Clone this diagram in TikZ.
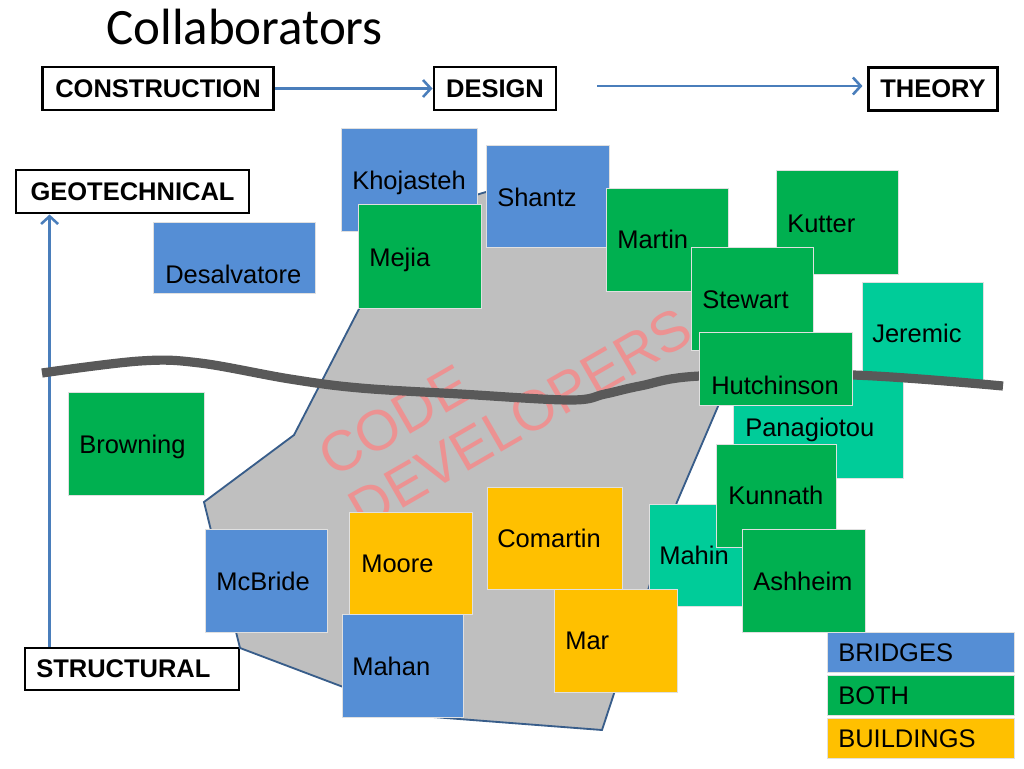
\documentclass[tikz,border=0pt]{standalone}
\usepackage{fontspec}
\setmainfont{Liberation Sans}
\newfontfamily\titlefont{Carlito}
\usetikzlibrary{arrows.meta,positioning}

\definecolor{bridgeblue}{RGB}{85,142,213}
\definecolor{bothgreen}{RGB}{0,176,80}
\definecolor{buildorange}{RGB}{255,192,0}
\definecolor{geoteal}{RGB}{0,204,153}
\definecolor{devgray}{RGB}{191,191,191}
\definecolor{roadgray}{RGB}{89,89,89}
\definecolor{flowblue}{RGB}{74,126,187}
\definecolor{edgeblue}{RGB}{56,93,138}
\definecolor{stamp}{RGB}{236,146,146}

\tikzset{x=0.024805cm, y=-0.024805cm,
  who/.style={anchor=base west, inner sep=0, font=\fontsize{18}{21}\selectfont},
  axis/.style={draw, line width=2pt, minimum height=1.07cm, inner sep=0,
    font=\bfseries\fontsize{18}{21}\selectfont},
  flow/.style={draw=flowblue, line width=1.8pt, -{Straight Barb[length=5.5pt,width=12pt]}},
  card/.style={draw=black!12, line width=0.5pt},
  key/.style={card, minimum height=1cm, text width=4.1cm, inner xsep=0.27cm,
    align=left, font=\fontsize{18}{21}\selectfont, node distance=0.05cm}}

\begin{document}
\begin{tikzpicture}
\path[use as bounding box] (0,0) rectangle (1024,768);

\node[anchor=base west, inner sep=0, font=\titlefont\fontsize{36}{40}\selectfont] (title) at (106,45) {Collaborators};

% axes
\node[axis, minimum width=5.75cm] (construction) at (158,88.5) {CONSTRUCTION};
\node[axis, minimum width=3.03cm] (design) at (495,88.5) {DESIGN};
\node[axis, minimum width=3.22cm] (theory) at (933,89) {THEORY};
\node[axis, minimum width=5.78cm] (geotechnical) at (132.5,191.5) {GEOTECHNICAL};
\node[axis, text width=4.75cm, inner xsep=0.28cm, align=left, minimum height=1.04cm] (structural) at (132,669) {STRUCTURAL};

\draw[flow] (construction) -- (design);
\coordinate (lead) at (597,86);
\draw[flow, shorten >=3pt] (lead) -- (lead -| theory.west);
\coordinate (rise) at ([xshift=0.645cm]structural.north west);
\draw[flow] (rise) -- (rise |- geotechnical.south);

% code developers
\filldraw[fill=devgray, draw=edgeblue, line width=1.3pt] (408,215) -- (486,192) -- (620,200)
  -- (760,290) -- (755,320) -- (677,502) -- (602,730) -- (420,716) -- (240,648)
  -- (204,502) -- (294,435) -- (360,307) -- cycle;
\node[rotate=30, align=left, text=stamp, inner sep=0, font=\fontsize{40}{43}\selectfont] (stampnote) at (505,392) {CODE\\DEVELOPERS};

% collaborators
\path[card, fill=bridgeblue] (341,128) rectangle (477,231);
\node[who] (khojasteh) at (352,189) {Khojasteh};
\path[card, fill=bothgreen] (358,204) rectangle (481,308);
\node[who] (mejia) at (369,266) {Mejia};
\path[card, fill=bridgeblue] (486,145) rectangle (609,247);
\node[who] (shantz) at (497,206) {Shantz};
\path[card, fill=bothgreen] (606,188) rectangle (728,291);
\node[who] (martin) at (617,248) {Martin};
\path[card, fill=bothgreen] (776,170) rectangle (898,274);
\node[who] (kutter) at (787,232) {Kutter};
\path[card, fill=bothgreen] (691,247) rectangle (813,350);
\node[who] (stewart) at (702,308) {Stewart};
\path[card, fill=geoteal] (862,282) rectangle (983,381);
\node[who] (jeremic) at (872,342) {Jeremic};
\path[card, fill=geoteal] (733,376) rectangle (903,478);
\node[who] (panagiotou) at (745,436) {Panagiotou};

% the divide
\draw[roadgray, line width=6.5pt] plot[smooth, tension=0.6] coordinates {(42,373) (140,361) (200,363)
  (290,379) (360,388) (460,394) (570,400) (605,394) (640,386) (700,376) (853,375) (1003,386)};

\path[card, fill=bothgreen] (699,332) rectangle (852,405);
\node[who] (hutchinson) at (711,394) {Hutchinson};
\path[card, fill=geoteal] (649,504) rectangle (771,606);
\node[who] (mahin) at (659,564) {Mahin};
\path[card, fill=bothgreen] (716,444) rectangle (836,547);
\node[who] (kunnath) at (728,504) {Kunnath};
\path[card, fill=bothgreen] (742,529) rectangle (865,632);
\node[who] (ashheim) at (753,590) {Ashheim};
\path[card, fill=buildorange] (487,487) rectangle (622,589);
\node[who] (comartin) at (497,547) {Comartin};
\path[card, fill=buildorange] (554,589) rectangle (677,692);
\node[who] (mar) at (565,649) {Mar};
\path[card, fill=buildorange] (349,512) rectangle (472,614);
\node[who] (moore) at (361,572) {Moore};
\path[card, fill=bridgeblue] (205,529) rectangle (327,632);
\node[who] (mcbride) at (216,590) {McBride};
\path[card, fill=bridgeblue] (342,614) rectangle (463,717);
\node[who] (mahan) at (352,675) {Mahan};
\path[card, fill=bridgeblue] (153,222) rectangle (315,293);
\node[who] (desalvatore) at (165,283) {Desalvatore};
\path[card, fill=bothgreen] (68,392) rectangle (204,495);
\node[who] (browning) at (79,453) {Browning};

% legend
\node[key, fill=bridgeblue, anchor=north west] (bridges) at (827,632) {BRIDGES};
\node[key, fill=bothgreen, below=of bridges] (both) {BOTH};
\node[key, fill=buildorange, below=of both] (buildings) {BUILDINGS};
\end{tikzpicture}
\end{document}
